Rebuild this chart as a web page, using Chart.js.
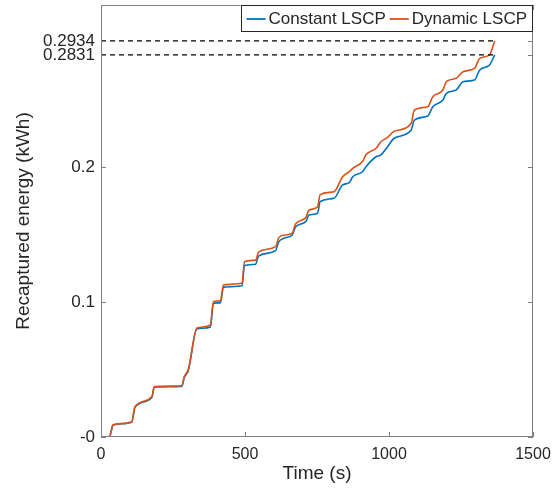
<!DOCTYPE html>
<html>
<head>
    <style>
        body { margin: 0; background: #fff; }
        #wrap { width: 559px; height: 497px; }
    </style>
    <script src="https://cdn.jsdelivr.net/npm/chart.js"></script>
    <title>Recaptured energy</title>
</head>
<body>
    <div id="wrap"><canvas id="energy_chart" width="559" height="497"></canvas></div>

    <script>
        // time stamps (s) shared by both curves
        const timeS = [0, 30, 35, 42, 107, 118, 177, 185, 281, 289, 303, 333, 380, 390, 415, 425, 490, 498, 537, 547,
            606, 617, 635, 664, 676, 711, 722, 752, 761, 809, 839, 862, 874, 908, 920, 955, 972, 995, 1018, 1077,
            1088, 1135, 1152, 1187, 1199, 1233, 1257, 1297, 1315, 1349, 1367];
        // recaptured energy (kWh)
        const constantLSCP = [0, 0, 0.004, 0.009, 0.011, 0.022, 0.0295, 0.037, 0.0375, 0.044, 0.049, 0.080, 0.0815, 0.099, 0.0995, 0.111, 0.112, 0.127, 0.128, 0.134,
            0.138, 0.1445, 0.1472, 0.1496, 0.1558, 0.1595, 0.1644, 0.1657, 0.1743, 0.1768, 0.1867, 0.1884, 0.1928, 0.1965, 0.2002, 0.2076, 0.2089, 0.2150, 0.2213, 0.2274,
            0.2348, 0.2378, 0.2447, 0.2496, 0.2546, 0.2570, 0.2632, 0.2644, 0.2719, 0.2756, 0.2831];
        const dynamicLSCP = [0, 0, 0.004, 0.009, 0.0113, 0.0224, 0.030, 0.0373, 0.038, 0.0447, 0.050, 0.0807, 0.083, 0.1002, 0.101, 0.1126, 0.114, 0.1299, 0.131, 0.137,
            0.141, 0.1475, 0.1495, 0.151, 0.158, 0.1625, 0.168, 0.1706, 0.1795, 0.1817, 0.1928, 0.1965, 0.1990, 0.204, 0.209, 0.2139, 0.2187, 0.222, 0.2265, 0.2324,
            0.2422, 0.2447, 0.2521, 0.2570, 0.2632, 0.2657, 0.2706, 0.2731, 0.2805, 0.2830, 0.2934];
        const finalLevels = [0.2934, 0.2831];
        const xTickValues = [0, 500, 1000, 1500];
        const yTickValues = [0, 0.1, 0.2, 0.2831, 0.2934];
        const yTickLabels = ['-0', '0.1', '0.2', '0.2831', '0.2934'];

        const blue = '#0072BD';
        const orange = '#D95319';
        const axisGray = '#808080';
        const textColor = '#262626';
        const fontFamily = '"Liberation Sans", Arial, Helvetica, sans-serif';

        Chart.defaults.font.family = fontFamily;
        Chart.defaults.color = textColor;

        const toPoints = (vals) => timeS.map((t, i) => ({ x: t, y: vals[i] }));
        const tEnd = timeS[timeS.length - 1];

        const datasets = [
            { label: 'Constant LSCP', data: toPoints(constantLSCP), borderColor: blue, borderWidth: 1.6,
              pointRadius: 0, cubicInterpolationMode: 'monotone', order: 2 },
            { label: 'Dynamic LSCP', data: toPoints(dynamicLSCP), borderColor: orange, borderWidth: 1.6,
              pointRadius: 0, cubicInterpolationMode: 'monotone', order: 1 }
        ];
        finalLevels.forEach(lvl => {
            datasets.push({ label: '', data: [{ x: 0, y: lvl }, { x: tEnd, y: lvl }], borderColor: '#000',
                borderWidth: 1.2, borderDash: [5, 4], pointRadius: 0, order: 0 });
        });

        // MATLAB-like box, inward ticks and framed legend
        const framePlugin = {
            id: 'frame',
            afterDatasetsDraw(chart) {
                const { ctx, chartArea: a, scales: { x, y } } = chart;
                ctx.save();
                ctx.strokeStyle = axisGray;
                ctx.lineWidth = 1;
                ctx.strokeRect(Math.round(a.left) + 0.5, Math.round(a.top) + 0.5,
                    Math.round(a.width) - 1, Math.round(a.height) - 1);
                ctx.beginPath();
                xTickValues.forEach(v => {
                    const px = Math.round(x.getPixelForValue(v)) + 0.5;
                    ctx.moveTo(px, a.bottom); ctx.lineTo(px, a.bottom - 5);
                    ctx.moveTo(px, a.top); ctx.lineTo(px, a.top + 5);
                });
                yTickValues.forEach(v => {
                    const py = Math.round(y.getPixelForValue(v)) + 0.5;
                    ctx.moveTo(a.left, py); ctx.lineTo(a.left + 5, py);
                    ctx.moveTo(a.right, py); ctx.lineTo(a.right - 5, py);
                });
                ctx.stroke();

                // legend
                ctx.font = '17px ' + fontFamily;
                const items = chart.data.datasets.slice(0, 2);
                const lineLen = 19, gap = 3, pad = 6, itemGap = 4;
                let w = pad;
                items.forEach(d => { w += lineLen + gap + ctx.measureText(d.label).width + itemGap; });
                w += pad - itemGap;
                const h = 26;
                const lx = a.right - w, ly = a.top;
                ctx.fillStyle = '#fff';
                ctx.fillRect(lx, ly, w, h);
                ctx.strokeStyle = '#262626';
                ctx.strokeRect(Math.round(lx) + 0.5, ly + 0.5, Math.round(w) - 1, h);
                let cx = lx + pad;
                const cy = ly + h / 2 + 1;
                items.forEach(d => {
                    ctx.strokeStyle = d.borderColor;
                    ctx.lineWidth = 1.8;
                    ctx.beginPath(); ctx.moveTo(cx, cy); ctx.lineTo(cx + lineLen, cy); ctx.stroke();
                    cx += lineLen + gap;
                    ctx.fillStyle = textColor;
                    ctx.textBaseline = 'middle';
                    ctx.fillText(d.label, cx, cy);
                    cx += ctx.measureText(d.label).width + itemGap;
                });
                ctx.restore();
            }
        };

        new Chart(document.getElementById('energy_chart'), {
            type: 'line',
            data: { datasets },
            options: {
                responsive: false,
                animation: false,
                layout: { padding: { top: 5, right: 26, left: 0, bottom: 0 } },
                plugins: { legend: { display: false }, tooltip: { enabled: false } },
                scales: {
                    x: {
                        type: 'linear', min: 0, max: 1500,
                        grid: { display: false, drawTicks: false },
                        border: { display: false },
                        afterBuildTicks: s => { s.ticks = xTickValues.map(v => ({ value: v })); },
                        afterFit: s => { s.height = 60; s.paddingLeft = 0; s.paddingRight = 0; },
                        ticks: { padding: 8, font: { size: 16 }, color: textColor, maxRotation: 0,
                                 callback: v => String(v) },
                        title: { display: true, text: 'Time (s)', font: { size: 19 }, color: textColor,
                                 padding: { top: 0, bottom: 12 } }
                    },
                    y: {
                        type: 'linear', min: 0, max: 0.32,
                        grid: { display: false, drawTicks: false },
                        border: { display: false },
                        afterBuildTicks: s => { s.ticks = yTickValues.map(v => ({ value: v })); },
                        afterFit: s => { s.width = 101; s.paddingTop = 0; s.paddingBottom = 0; },
                        ticks: {
                            padding: 6, font: { size: 17 }, color: textColor, autoSkip: false,
                            callback: v => yTickLabels[yTickValues.indexOf(v)]
                        },
                        title: { display: true, text: 'Recaptured energy (kWh)', font: { size: 19 }, color: textColor,
                                 padding: { top: 12, bottom: 0 } }
                    }
                }
            },
            plugins: [framePlugin]
        });
    </script>
</body>
</html>
